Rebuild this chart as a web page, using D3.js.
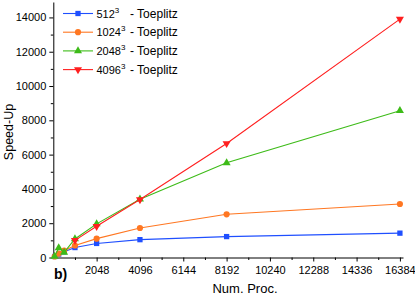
<!DOCTYPE html>
<html>
<head>
<meta charset="utf-8">
<script src="https://cdn.jsdelivr.net/npm/d3@7"></script>
<style>
  body { margin: 0; background: #fff; }
  svg { font-family: "Liberation Sans", Arial, sans-serif; }
</style>
</head>
<body>
<div id="chart"></div>
<script>
// processor counts and measured speed-ups
const procs = [64, 256, 512, 1024, 2048, 4096, 8192, 16384];
const speedup512 = [60, 200, 330, 580, 820, 1040, 1220, 1420];
const speedup1024 = [60, 230, 400, 700, 1100, 1720, 2520, 3120];
const speedup2048 = [60, 560, 300, 1080, 1960, 3400, 5520, 8560];
const speedup4096 = [null, null, null, 1000, 1820, 3380, 6650, 13900];
const sizes = ["512", "1024", "2048", "4096"];
const xTicks = [2048, 4096, 6144, 8192, 10240, 12288, 14336, 16384];
const yTicks = [0, 2000, 4000, 6000, 8000, 10000, 12000, 14000];

const width = 415, height = 297;
const colors = ["#1f4fff", "#ff7722", "#3dbb18", "#ff1f1f"];
const symbols = [d3.symbolSquare, d3.symbolCircle, d3.symbolTriangle, d3.symbolTriangle];
const fmt = d3.format("d");

const x = d3.scaleLinear().domain([0, 16530]).range([53.3, 403]);
const y = d3.scaleLinear().domain([0, 14900]).range([257.5, 2]);

const svg = d3.select("#chart").append("svg")
  .attr("width", width)
  .attr("height", height);

// axes
svg.append("g")
  .attr("transform", `translate(0,${y(0)})`)
  .call(d3.axisBottom(x).tickValues(xTicks).tickFormat(fmt).tickSize(4).tickSizeOuter(0).tickPadding(5));
svg.append("g")
  .attr("transform", `translate(0,${y(0)})`)
  .call(d3.axisBottom(x).tickValues(d3.range(1024, 16384, 2048)).tickSize(2.5).tickSizeOuter(0).tickFormat(""))
  .select(".domain").remove();

svg.append("g")
  .attr("transform", `translate(${x(0)},0)`)
  .call(d3.axisLeft(y).tickValues(yTicks).tickFormat(fmt).tickSize(4).tickSizeOuter(0).tickPadding(3));
svg.append("g")
  .attr("transform", `translate(${x(0)},0)`)
  .call(d3.axisLeft(y).tickValues(d3.range(1000, 15000, 2000)).tickSize(2.5).tickSizeOuter(0).tickFormat(""))
  .select(".domain").remove();

svg.selectAll(".tick text").attr("font-size", 11).attr("fill", "#000");
svg.selectAll(".domain, .tick line").attr("stroke", "#000").attr("stroke-width", 1);

// series
const series = [speedup512, speedup1024, speedup2048, speedup4096];
const line = d3.line()
  .defined(d => d[1] != null)
  .x(d => x(d[0]))
  .y(d => y(d[1]));

series.forEach((vals, i) => {
  const pts = procs.map((p, j) => [p, vals[j]]);
  svg.append("path")
    .datum(pts)
    .attr("fill", "none")
    .attr("stroke", colors[i])
    .attr("stroke-width", 1.1)
    .attr("d", line);
  svg.selectAll(null)
    .data(pts.filter(d => d[1] != null))
    .enter()
    .append("path")
    .attr("d", d3.symbol().type(symbols[i]).size(i === 1 ? 30 : 28))
    .attr("fill", colors[i])
    .attr("transform", d => `translate(${x(d[0])},${y(d[1])})` + (i === 3 ? " rotate(180)" : ""));
});

// legend
const legend = svg.append("g");
sizes.forEach((s, i) => {
  const ly = 13.5 + i * 18.7;
  legend.append("line")
    .attr("x1", 63).attr("x2", 93)
    .attr("y1", ly).attr("y2", ly)
    .attr("stroke", colors[i]).attr("stroke-width", 1.1);
  legend.append("path")
    .attr("d", d3.symbol().type(symbols[i]).size(i === 1 ? 30 : 28))
    .attr("fill", colors[i])
    .attr("transform", `translate(78,${ly})` + (i === 3 ? " rotate(180)" : ""));
  const t = legend.append("text")
    .attr("x", 96.5).attr("y", ly + 4)
    .attr("font-size", 11);
  t.append("tspan").text(s);
  t.append("tspan").attr("dy", -5).attr("font-size", 8).text("3");
  legend.append("text")
    .attr("x", 130).attr("y", ly + 4)
    .attr("font-size", 12)
    .text("- Toeplitz");
});

// labels
svg.append("text")
  .attr("transform", "translate(13,132) rotate(-90)")
  .attr("text-anchor", "middle")
  .attr("font-size", 12.5)
  .text("Speed-Up");
svg.append("text")
  .attr("x", 245).attr("y", 293)
  .attr("text-anchor", "middle")
  .attr("font-size", 13)
  .text("Num.  Proc.");
svg.append("text")
  .attr("x", 54).attr("y", 279)
  .attr("font-size", 14)
  .attr("font-weight", "bold")
  .text("b)");
</script>
</body>
</html>
